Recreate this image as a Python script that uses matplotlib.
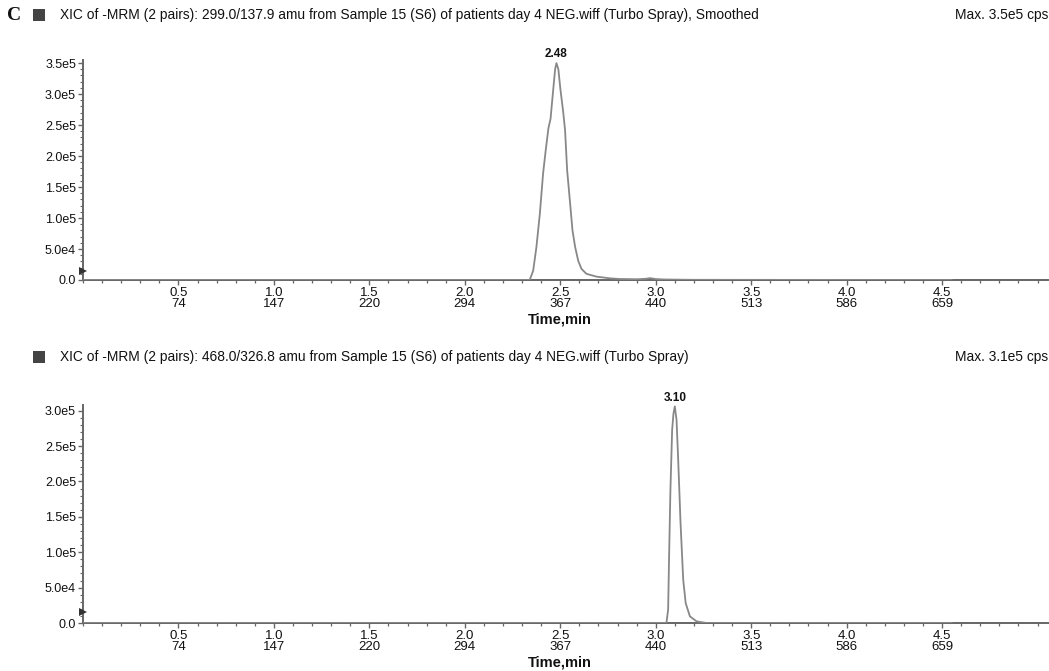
import matplotlib
matplotlib.use("Agg")
import matplotlib.pyplot as plt
from matplotlib.ticker import FixedLocator, MultipleLocator
from matplotlib.patches import Rectangle
import matplotlib.transforms as mtransforms

plt.rcParams['font.family'] = ['Liberation Sans', 'DejaVu Sans']

# ---------------- data ----------------
panel_letter = "C"
titles = [
    "XIC of -MRM (2 pairs): 299.0/137.9 amu from Sample 15 (S6) of patients day 4 NEG.wiff (Turbo Spray), Smoothed",
    "XIC of -MRM (2 pairs): 468.0/326.8 amu from Sample 15 (S6) of patients day 4 NEG.wiff (Turbo Spray)",
]
max_labels = ["Max. 3.5e5 cps", "Max. 3.1e5 cps"]

x_major = [0.5, 1.0, 1.5, 2.0, 2.5, 3.0, 3.5, 4.0, 4.5]
x_scans = ["74", "147", "220", "294", "367", "440", "513", "586", "659"]

y_ticks_top = [0.0, 5.0e4, 1.0e5, 1.5e5, 2.0e5, 2.5e5, 3.0e5, 3.5e5]
y_labels_top = ["0.0", "5.0e4", "1.0e5", "1.5e5", "2.0e5", "2.5e5", "3.0e5", "3.5e5"]
y_ticks_bot = [0.0, 5.0e4, 1.0e5, 1.5e5, 2.0e5, 2.5e5, 3.0e5]
y_labels_bot = ["0.0", "5.0e4", "1.0e5", "1.5e5", "2.0e5", "2.5e5", "3.0e5"]

# trace 1 (299.0/137.9), time in min, intensity in cps
t1 = [0.00, 2.30, 2.340, 2.358, 2.375, 2.393, 2.410, 2.424, 2.438, 2.449, 2.463, 2.473,
      2.480, 2.490, 2.501, 2.515, 2.525, 2.536, 2.550, 2.564, 2.578, 2.594, 2.611,
      2.637, 2.690, 2.760, 2.812, 2.85, 2.90, 2.95, 2.97, 3.00, 3.05, 3.20, 4.55]
i1 = [0, 0, 0, 1.5e4, 5.3e4, 1.07e5, 1.72e5, 2.10e5, 2.45e5, 2.60e5, 3.07e5, 3.40e5,
      3.50e5, 3.40e5, 3.07e5, 2.72e5, 2.42e5, 1.77e5, 1.29e5, 8.0e4, 5.3e4, 3.1e4, 1.8e4,
      1.0e4, 5.4e3, 2.7e3, 1.6e3, 1.5e3, 1.2e3, 2.0e3, 3.0e3, 1.5e3, 8.0e2, 3.0e2, 0]

# trace 2 (468.0/326.8)
t2 = [0.00, 3.00, 3.056, 3.065, 3.070, 3.077, 3.086, 3.093, 3.100, 3.109, 3.117, 3.130,
      3.144, 3.157, 3.179, 3.214, 3.266, 4.55]
i2 = [0, 0, 0, 1.9e4, 9.4e4, 1.88e5, 2.73e5, 2.96e5, 3.06e5, 2.87e5, 2.35e5, 1.41e5,
      6.1e4, 2.8e4, 9.4e3, 2.3e3, 0, 0]

peak_times = [2.48, 3.10]
peak_labels = ["2.48", "3.10"]
peak_heights = [3.50e5, 3.06e5]
y_max = [3.55e5, 3.08e5]
threshold_marks = [1.5e4, 1.5e4]

# ---------------- figure ----------------
W, H = 1049, 671
fig = plt.figure(figsize=(W / 100, H / 100), dpi=100)

axis_col = "#666666"
trace_col = "#888888"
text_col = "#111111"

ax_rects = [
    [83 / W, 1 - 280 / H, (W - 83) / W, 220 / H],
    [83 / W, 1 - 623 / H, (W - 83) / W, 218 / H],
]
title_y_px = [15, 357]

traces = [(t1, i1), (t2, i2)]
yt = [(y_ticks_top, y_labels_top), (y_ticks_bot, y_labels_bot)]

for k in range(2):
    ax = fig.add_axes(ax_rects[k])
    t, inten = traces[k]
    ax.plot(t, inten, color=trace_col, lw=1.3, solid_joinstyle="round", zorder=3)
    ax.set_xlim(0, 5.06)
    ax.set_ylim(0, y_max[k])

    for s in ["top", "right"]:
        ax.spines[s].set_visible(False)
    for s in ["left", "bottom"]:
        ax.spines[s].set_color(axis_col)
        ax.spines[s].set_linewidth(1.4)

    # x ticks
    ax.xaxis.set_major_locator(FixedLocator(x_major))
    ax.set_xticklabels([f"{v:.1f}\n{s}" for v, s in zip(x_major, x_scans)])
    ax.xaxis.set_minor_locator(MultipleLocator(0.1))
    ax.tick_params(axis="x", which="major", direction="out", length=3.5, width=1.0,
                   color=axis_col, labelsize=9.5, labelcolor=text_col, pad=1.5)
    ax.tick_params(axis="x", which="minor", direction="out", length=2.2, width=0.9,
                   color=axis_col)
    for lab in ax.get_xticklabels():
        lab.set_linespacing(0.86)

    # y ticks
    ax.yaxis.set_major_locator(FixedLocator(yt[k][0]))
    ax.set_yticklabels(yt[k][1])
    ax.yaxis.set_minor_locator(MultipleLocator(1.0e4))
    ax.tick_params(axis="y", which="major", direction="out", length=3.5, width=1.0,
                   color=axis_col, labelsize=9, labelcolor=text_col, pad=1.5)
    ax.tick_params(axis="y", which="minor", direction="out", length=2.0, width=0.8,
                   color=axis_col)

    # threshold marker on the y axis
    ax.plot([0], [threshold_marks[k]], marker=">", ms=6, color="#333333",
            clip_on=False, zorder=5, markeredgewidth=0)

    # x-axis label under 2.5
    trans = mtransforms.blended_transform_factory(ax.transData, ax.transAxes)
    ax.text(2.5, -0.15, "Time,min", transform=trans, ha="center", va="top",
            fontsize=10.5, fontweight="bold", color=text_col)

    # peak label
    ax.annotate(peak_labels[k], xy=(peak_times[k], peak_heights[k]),
                xytext=(0, 2), textcoords="offset points", ha="center", va="bottom",
                fontsize=8.5, fontweight="bold", color=text_col, annotation_clip=False)

    # header
    ty = 1 - title_y_px[k] / H
    fig.patches.append(Rectangle((33 / W, 1 - (title_y_px[k] + 6) / H), 12 / W, 12 / H,
                                 transform=fig.transFigure, facecolor="#444444",
                                 edgecolor="none"))
    fig.text(60 / W, ty, titles[k], fontsize=9.9, color=text_col,
             ha="left", va="center")
    fig.text(1048 / W, ty, max_labels[k], fontsize=9.9, color=text_col,
             ha="right", va="center")

fig.text(7 / W, 1 - 15 / H, panel_letter, fontsize=14, fontweight="bold",
         family=["Liberation Serif", "DejaVu Serif"], ha="left", va="center",
         color="#111111")

fig.savefig("out.png", dpi=100)
